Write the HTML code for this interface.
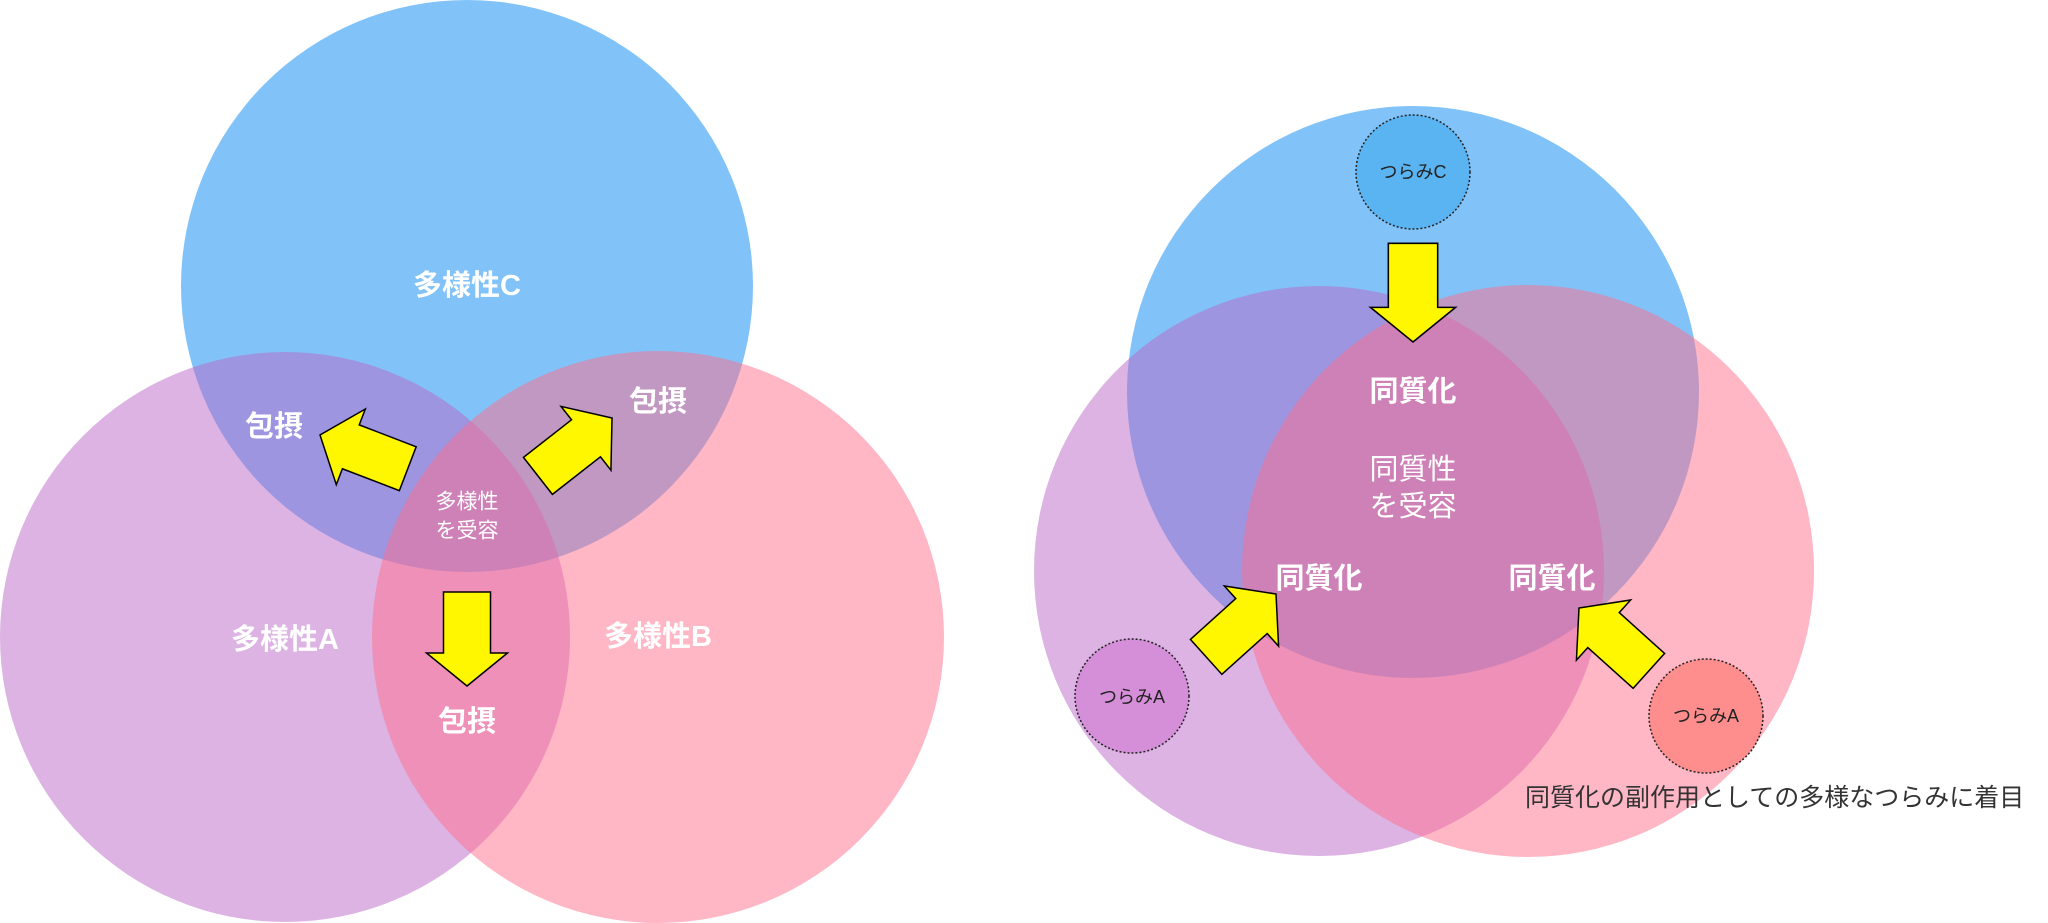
<!DOCTYPE html>
<html><head><meta charset="utf-8"><style>
html,body{margin:0;padding:0;background:#fff;}
svg{display:block;}
text{font-family:"Liberation Sans","Noto Sans CJK JP",sans-serif;}
</style></head><body>
<svg width="2048" height="923" viewBox="0 0 2048 923" xmlns="http://www.w3.org/2000/svg">
<defs>
<path id="arr" d="M-94,-23.5 L-33,-23.5 L-33,-40.5 L0,0 L-33,40.5 L-33,23.5 L-94,23.5 Z" fill="#fff700" stroke="#000" stroke-width="1.5"/>
</defs>
<circle cx="467" cy="286" r="286" fill="rgba(33,150,243,0.57)"/>
<circle cx="285" cy="637" r="285" fill="rgba(186,104,200,0.5)"/>
<circle cx="658" cy="637" r="286" fill="rgba(255,110,140,0.5)"/>
<use href="#arr" transform="translate(467,686) rotate(90)"/>
<use href="#arr" transform="translate(320,435) rotate(201)"/>
<use href="#arr" transform="translate(612,418) rotate(-38)"/>
<g fill="#fff" font-weight="bold" font-size="29" text-anchor="middle" dominant-baseline="central">
<text x="467" y="286">多様性C</text>
<text x="285" y="640">多様性A</text>
<text x="658" y="637">多様性B</text>
<text x="274" y="427">包摂</text>
<text x="658" y="402">包摂</text>
<text x="467" y="722">包摂</text>
</g>
<g fill="#fff" font-size="21" text-anchor="middle" dominant-baseline="central">
<text x="467" y="502">多様性</text>
<text x="467" y="531">を受容</text>
</g>
<circle cx="1413" cy="392" r="286" fill="rgba(33,150,243,0.57)"/>
<circle cx="1319" cy="571" r="285" fill="rgba(186,104,200,0.5)"/>
<circle cx="1528" cy="571" r="286" fill="rgba(255,110,140,0.5)"/>
<circle cx="1413" cy="172" r="57" fill="#5ab4f2" stroke="#222" stroke-width="1.5" stroke-dasharray="2,2"/>
<circle cx="1132" cy="696" r="57" fill="#d48fd8" stroke="#222" stroke-width="1.5" stroke-dasharray="2,2"/>
<circle cx="1706" cy="716" r="57" fill="#fe8e8e" stroke="#222" stroke-width="1.5" stroke-dasharray="2,2"/>
<use href="#arr" transform="translate(1413,342) rotate(90) scale(1.05)"/>
<use href="#arr" transform="translate(1276,594) rotate(-42)"/>
<use href="#arr" transform="translate(1579,608) rotate(-138)"/>
<g fill="#fff" font-weight="bold" font-size="29" text-anchor="middle" dominant-baseline="central">
<text x="1413" y="392">同質化</text>
<text x="1319" y="579">同質化</text>
<text x="1552" y="579">同質化</text>
</g>
<g fill="#fff" font-size="29" text-anchor="middle" dominant-baseline="central">
<text x="1413" y="470">同質性</text>
<text x="1413" y="507">を受容</text>
</g>
<g fill="#222" font-size="18" text-anchor="middle" dominant-baseline="central">
<text x="1413" y="172">つらみC</text>
<text x="1132" y="697">つらみA</text>
<text x="1706" y="716">つらみA</text>
</g>
<text x="1525" y="798" fill="#333" font-size="25" dominant-baseline="central">同質化の副作用としての多様なつらみに着目</text>
</svg>
</body></html>
